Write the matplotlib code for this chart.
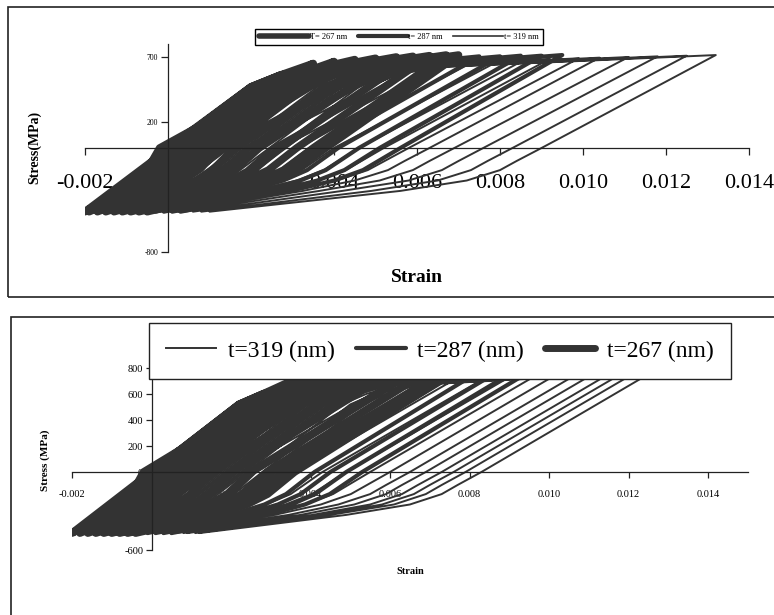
import numpy as np
import matplotlib
matplotlib.use('Agg')
import matplotlib.pyplot as plt
from matplotlib.lines import Line2D
from matplotlib.patches import Rectangle

plt.rcParams['font.family'] = ['Liberation Serif', 'DejaVu Serif']

COL = '#333333'

# --- top panel: peak strain / peak stress / unloading zero crossing / min strain per cycle
top_min_stress = -490
top_267_peak = [0.0035, 0.0040, 0.0045, 0.0050, 0.0055, 0.0059, 0.0063, 0.0067, 0.0070]
top_267_peak_s = [650, 665, 680, 690, 700, 705, 710, 715, 715]
top_267_zero = [-0.0002, 0.0004, 0.0010, 0.0016, 0.0022, 0.0027, 0.0031, 0.0035, 0.0038]
top_267_min = [-0.0020, -0.0019, -0.0017, -0.0015, -0.0013, -0.0011, -0.0009, -0.0007, -0.0005]

top_287_peak = [0.0040, 0.0046, 0.0052, 0.0058, 0.0064, 0.0070, 0.0075, 0.0080, 0.0085, 0.0090, 0.0095]
top_287_peak_s = [650, 665, 680, 690, 695, 700, 705, 705, 710, 710, 715]
top_287_zero = [0.0001, 0.0007, 0.0013, 0.0019, 0.0025, 0.0031, 0.0036, 0.0041, 0.0046, 0.0051, 0.0056]
top_287_min = [-0.0020, -0.0018, -0.0016, -0.0013, -0.0011, -0.0008, -0.0006, -0.0003, -0.0001, 0.0001, 0.0003]

top_319_peak = [0.0045, 0.0053, 0.0060, 0.0067, 0.0074, 0.0080, 0.0086, 0.0092, 0.0099, 0.0104, 0.0111, 0.0118, 0.0125, 0.0132]
top_319_peak_s = [620, 640, 650, 660, 670, 675, 680, 685, 690, 695, 700, 705, 710, 715]
top_319_zero = [0.0005, 0.0013, 0.0020, 0.0027, 0.0034, 0.0040, 0.0046, 0.0052, 0.0058, 0.0063, 0.0069, 0.0076, 0.0083, 0.0090]
top_319_min = [-0.0020, -0.0017, -0.0014, -0.0011, -0.0008, -0.0006, -0.0004, -0.0002, 0.0000, 0.0002, 0.0004, 0.0006, 0.0008, 0.0010]

# --- bottom panel
bot_min_stress = -470
bot_267_peak = [0.0038, 0.0044, 0.0050, 0.0055, 0.0060, 0.0065, 0.0069, 0.0073, 0.0076]
bot_267_peak_s = [740, 745, 750, 755, 760, 760, 765, 765, 770]
bot_267_zero = [-0.0002, 0.0004, 0.0010, 0.0015, 0.0020, 0.0025, 0.0029, 0.0033, 0.0036]
bot_267_min = [-0.0020, -0.0018, -0.0016, -0.0014, -0.0012, -0.0010, -0.0008, -0.0006, -0.0004]

bot_287_peak = [0.0040, 0.0047, 0.0054, 0.0060, 0.0066, 0.0072, 0.0077, 0.0082, 0.0087, 0.0091, 0.0095]
bot_287_peak_s = [740, 745, 750, 755, 760, 760, 765, 765, 770, 770, 770]
bot_287_zero = [0.0000, 0.0007, 0.0014, 0.0020, 0.0026, 0.0031, 0.0036, 0.0041, 0.0045, 0.0049, 0.0053]
bot_287_min = [-0.0020, -0.0017, -0.0014, -0.0011, -0.0008, -0.0006, -0.0003, -0.0001, 0.0001, 0.0003, 0.0005]

bot_319_peak = [0.0045, 0.0055, 0.0064, 0.0072, 0.0079, 0.0086, 0.0092, 0.0098, 0.0103, 0.0108, 0.0112, 0.0116, 0.0119, 0.0122, 0.0126]
bot_319_peak_s = [740, 745, 750, 755, 760, 760, 765, 765, 770, 770, 770, 770, 770, 770, 770]
bot_319_zero = [0.0002, 0.0012, 0.0021, 0.0029, 0.0036, 0.0043, 0.0049, 0.0055, 0.0060, 0.0065, 0.0069, 0.0073, 0.0076, 0.0079, 0.0083]
bot_319_min = [-0.0020, -0.0016, -0.0012, -0.0009, -0.0006, -0.0004, -0.0002, 0.0000, 0.0002, 0.0004, 0.0006, 0.0008, 0.0009, 0.0011, 0.0012]

# loop shape: loading points as offset from the previous min strain,
# unloading knee as offset back from the zero crossing (capped by a fraction of the way to min)
top_load_dx = [0.0040, 0.0047, 0.0056]
top_load_s = [470, 560, 620]
bot_load_dx = [0.0042, 0.0048, 0.0056]
bot_load_s = [520, 600, 670]
knee_dx = [0.0006, 0.0010, 0.0018, 0.0034]
knee_frac = [0.10, 0.17, 0.30, 0.50]
knee_s = [-100, -170, -250, -330]


def cycle_path(peak, peak_s, zero, mins, s_min, load_dx, load_s):
    xs, ys = [0.0], [0.0]
    for i in range(len(peak)):
        base = mins[i - 1] if i > 0 else -0.002
        for dx, s in zip(load_dx, load_s):
            if base + dx < peak[i] - 0.0003 and s > ys[-1]:
                xs.append(base + dx)
                ys.append(s)
        xs.append(peak[i]); ys.append(peak_s[i])
        xs.append(zero[i]); ys.append(0)
        m = mins[i]
        for dx, fr, s in zip(knee_dx, knee_frac, knee_s):
            xs.append(zero[i] - min(dx, fr * (zero[i] - m)))
            ys.append(s)
        xs.append(m); ys.append(s_min)
    return xs, ys


def setup(ax, xlim, ylim, xticks, yticks, xfs, yfs, xpad, ypad, tlen):
    ax.set_xlim(xlim)
    ax.set_ylim(ylim)
    ax.patch.set_visible(False)
    ax.spines['top'].set_visible(False)
    ax.spines['right'].set_visible(False)
    ax.spines['left'].set_position(('data', 0))
    ax.spines['bottom'].set_position(('data', 0))
    for sp in ['left', 'bottom']:
        ax.spines[sp].set_color('#222222')
        ax.spines[sp].set_linewidth(0.9)
    ax.set_xticks(xticks)
    ax.set_xticklabels(['%.3f' % v for v in xticks], fontsize=xfs)
    ax.set_yticks(yticks)
    ax.set_yticklabels(['%d' % v for v in yticks], fontsize=yfs)
    ax.tick_params(axis='x', direction='out', length=tlen, width=0.9, pad=xpad, colors='#222222', labelcolor='black')
    ax.tick_params(axis='y', direction='out', length=tlen, width=0.9, pad=ypad, colors='#222222', labelcolor='black')


W, H = 774, 615
fig = plt.figure(figsize=(W / 100, H / 100), dpi=100)

# frames
fig.patches.append(Rectangle((8 / W, 1 - 297 / H), 780 / W, 290 / H, transform=fig.transFigure,
                             fill=False, edgecolor='#222222', lw=1.2))
fig.patches.append(Rectangle((11 / W, -0.1), 780 / W, (0.1 + 1 - 317 / H), transform=fig.transFigure,
                             fill=False, edgecolor='#222222', lw=1.2))

lw = {'267': 5.5, '287': 3.0, '319': 1.4}

# top panel
ax1 = fig.add_axes([85 / W, 1 - 252 / H, 664 / W, 208 / H])
for key, d in [('267', (top_267_peak, top_267_peak_s, top_267_zero, top_267_min)),
               ('287', (top_287_peak, top_287_peak_s, top_287_zero, top_287_min)),
               ('319', (top_319_peak, top_319_peak_s, top_319_zero, top_319_min))]:
    x, y = cycle_path(*d, top_min_stress, top_load_dx, top_load_s)
    ax1.plot(x, y, color=COL, lw=lw[key], solid_capstyle='round', solid_joinstyle='round')
setup(ax1, (-0.002, 0.014), (-800, 800), [-0.002, 0.0, 0.002, 0.004, 0.006, 0.008, 0.010, 0.012, 0.014],
      [-800, -300, 200, 700], 16, 5.5, 14, 2, 5)

h1 = [Line2D([], [], color=COL, lw=4.0, solid_capstyle='round'),
      Line2D([], [], color=COL, lw=3.0, solid_capstyle='round'),
      Line2D([], [], color=COL, lw=1.2)]
leg1 = fig.legend(h1, ['T= 267 nm', 't= 287 nm', 't= 319 nm'], loc='center',
                  bbox_to_anchor=(399 / W, 1 - 37 / H), ncol=3, fontsize=6, handlelength=6,
                  handletextpad=0.1, columnspacing=1.2, borderpad=0.5, fancybox=False,
                  edgecolor='black', framealpha=1)
leg1.get_frame().set_linewidth(1.0)

fig.text(417 / W, 1 - 278 / H, 'Strain', fontsize=14, fontweight='bold', ha='center', va='center')
fig.text(35 / W, 1 - 147 / H, 'Stress(MPa)', fontsize=10, fontweight='bold', ha='center', va='center',
         rotation=90)

# bottom panel
ax2 = fig.add_axes([72 / W, 1 - 550 / H, 675.75 / W, 208 / H])
for key, d in [('319', (bot_319_peak, bot_319_peak_s, bot_319_zero, bot_319_min)),
               ('287', (bot_287_peak, bot_287_peak_s, bot_287_zero, bot_287_min)),
               ('267', (bot_267_peak, bot_267_peak_s, bot_267_zero, bot_267_min))]:
    x, y = cycle_path(*d, bot_min_stress, bot_load_dx, bot_load_s)
    ax2.plot(x, y, color=COL, lw=lw[key], solid_capstyle='round', solid_joinstyle='round')
setup(ax2, (-0.002, 0.015), (-600, 1000), [-0.002, 0.0, 0.002, 0.004, 0.006, 0.008, 0.010, 0.012, 0.014],
      [-600, -400, -200, 0, 200, 400, 600, 800], 7.5, 7.5, 9, 2, 4)

h2 = [Line2D([], [], color=COL, lw=1.4),
      Line2D([], [], color=COL, lw=3.0, solid_capstyle='round'),
      Line2D([], [], color=COL, lw=5.0, solid_capstyle='round')]
leg2 = fig.legend(h2, ['t=319 (nm)', 't=287 (nm)', 't=267 (nm)'], loc='center',
                  bbox_to_anchor=(440 / W, 1 - 351 / H), ncol=3, fontsize=17, handlelength=2.1,
                  handletextpad=0.5, columnspacing=0.9, borderpad=0.75, fancybox=False,
                  edgecolor='#222222', framealpha=1)
leg2.get_frame().set_linewidth(1.0)

fig.text(410 / W, 1 - 572 / H, 'Strain', fontsize=7.5, fontweight='bold', ha='center', va='center')
fig.text(45 / W, 1 - 460 / H, 'Stress (MPa)', fontsize=8, fontweight='bold', ha='center', va='center',
         rotation=90)

fig.savefig('out.png', dpi=100)
